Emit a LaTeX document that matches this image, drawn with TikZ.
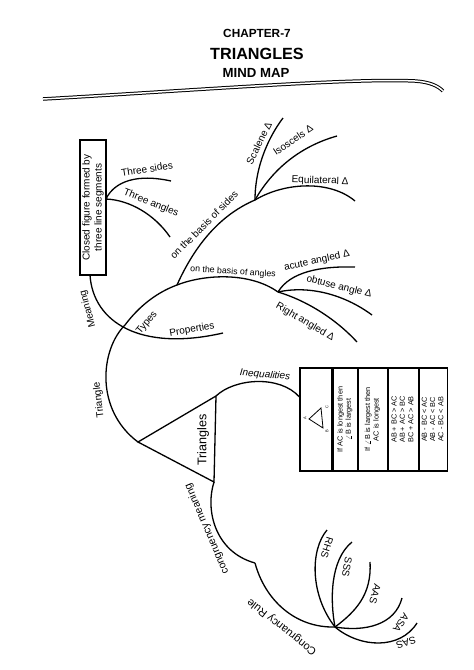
\documentclass[tikz,border=0pt]{standalone}
\usepackage{fontspec}
\setmainfont{Liberation Sans}
\usetikzlibrary{positioning}

\begin{document}
\begin{tikzpicture}[x=1pt,y=-1pt,
      font=\fontsize{10}{12}\selectfont,
      branch/.style={line width=1.3pt},
      lbl/.style={inner sep=0.5pt},
      smalllbl/.style={lbl,font=\fontsize{8.8}{10}\selectfont},
      cell/.style={draw,line width=1.1pt,minimum height=103pt,inner sep=0pt,
                   font=\fontsize{7.3}{8.3}\selectfont},
      corner/.style={inner sep=0pt,font=\fontsize{4}{4}\selectfont}]
    \useasboundingbox (0,0) rectangle (474,670);
    % heading
    \node[font=\bfseries\fontsize{11.8}{14}\selectfont] (chap) at (257,33) {CHAPTER-7};
    \node[font=\bfseries\fontsize{16.2}{18}\selectfont] (head) at (257,54) {TRIANGLES};
    \node[font=\bfseries\fontsize{13.2}{15}\selectfont] (sub) at (256,73) {MIND MAP};
    \draw[line width=1pt,double distance=1.5pt] (43,99) .. controls (200,90) and (350,78) .. (415,81)
        .. controls (430,82) and (438,86) .. (443,91);
    % central triangle
    \coordinate (tri) at (138,442);
    \coordinate (ineq) at (216,396);
    \coordinate (cong) at (214,482);
    \draw[branch] (tri)--(ineq)--(cong)--cycle;
    \node[lbl,rotate=90,font=\fontsize{12.6}{14}\selectfont] (centre) at (203,440) {Triangles};
    % meaning and types
    \node[draw,line width=1.3pt,rotate=90,align=center,minimum width=135pt,minimum height=26pt,
          inner sep=1pt] (closed) at (93,207.5) {Closed figure formed by\\three line segments};
    \coordinate (defn) at (106,199);
    \coordinate (mean) at (90,275);
    \coordinate (types) at (177,285);
    \coordinate (sides) at (255,200);
    \coordinate (angles) at (278,292);
    \coordinate (tsides) at (171,181);
    \coordinate (tangles) at (170,237);
    \coordinate (prop) at (223,333);
    \coordinate (scal) at (283,118);
    \coordinate (isos) at (337,136);
    \coordinate (equi) at (355,201);
    \coordinate (acute) at (355,267);
    \coordinate (obtuse) at (372,315);
    \coordinate (right) at (357,342);
    \draw[branch] (defn) .. controls (112,186) and (130,172) .. (tsides);
    \draw[branch] (defn) .. controls (130,200) and (155,215) .. (tangles);
    \draw[branch] (mean) .. controls (93,322) and (140,352) .. (prop);
    \draw[branch] (tri) .. controls (95,410) and (100,350) .. (125,325)
        .. controls (140,305) and (158,292) .. (types);
    \draw[branch] (types) .. controls (195,245) and (220,215) .. (sides);
    \draw[branch] (types) .. controls (205,274) and (250,272) .. (angles);
    \draw[branch] (sides) .. controls (255,165) and (270,135) .. (scal);
    \draw[branch] (sides) .. controls (275,165) and (305,145) .. (isos);
    \draw[branch] (sides) .. controls (285,182) and (330,180) .. (equi);
    \draw[branch] (angles) .. controls (290,272) and (320,266) .. (acute);
    \draw[branch] (angles) .. controls (310,285) and (345,295) .. (obtuse);
    \draw[branch] (angles) .. controls (305,300) and (335,318) .. (right);
    \node[lbl,rotate=9] (tsl) at (147,169) {Three sides};
    \node[lbl,rotate=-22] (tal) at (151,203) {Three angles};
    \node[lbl,rotate=105] (meanl) at (88,309) {Meaning};
    \node[lbl,rotate=97] (tril) at (99,400) {Triangle};
    \node[lbl,rotate=50] (typesl) at (147,323) {Types};
    \node[lbl,rotate=10] (propl) at (192,330) {Properties};
    \node[lbl,rotate=45] (sidesl) at (204,225) {on the basis of sides};
    \node[smalllbl,rotate=-4] (anglesl) at (233,272) {on the basis of angles};
    \node[lbl,rotate=64] (scall) at (259,143) {Scalene Δ};
    \node[lbl,rotate=34] (isosl) at (293,140) {Isoscels Δ};
    \node[lbl,rotate=-2] (equil) at (320,181) {Equilateral Δ};
    \node[lbl,rotate=12] (acutel) at (317,261) {acute angled Δ};
    \node[lbl,rotate=-14] (obtusel) at (339,287) {obtuse angle Δ};
    \node[lbl,rotate=-30] (rightl) at (305,322) {Right angled Δ};
    % inequalities
    \node[cell,minimum width=32pt] (colA) at (316,419.5) {};
    \node[cell,minimum width=24pt,right=0pt of colA] (colB)
        {\rotatebox{90}{\begin{tabular}{@{}c@{}}If AC is longest then\\$\angle$B is largest\end{tabular}}};
    \node[cell,minimum width=29pt,right=0pt of colB] (colC)
        {\rotatebox{90}{\begin{tabular}{@{}c@{}}If $\angle$B is largest then\\AC is longest\end{tabular}}};
    \node[cell,minimum width=30pt,right=0pt of colC] (colD)
        {\rotatebox{90}{\begin{tabular}{@{}c@{}}AB + BC > AC\\AB + AC > BC\\BC + AC > AB\end{tabular}}};
    \node[cell,minimum width=28pt,right=0pt of colD] (colE)
        {\rotatebox{90}{\begin{tabular}{@{}c@{}}AB - BC < AC\\AB - AC < BC\\AC - BC < AB\end{tabular}}};
    \coordinate (va) at (309,419);
    \coordinate (vc) at (321,408);
    \coordinate (vb) at (323,428);
    \draw[line width=0.8pt] (va)--(vc)--(vb)--cycle;
    \node[corner,rotate=90] (la) at (305,418) {A};
    \node[corner,rotate=90] (lc) at (327,407) {C};
    \node[corner,rotate=90] (lb) at (327,431) {B};
    \draw[branch] (ineq) .. controls (235,378) and (280,375) .. (colA.west |- 0,397);
    \node[lbl,rotate=-5,font=\itshape\fontsize{10}{12}\selectfont] (ineql) at (265,375) {Inequalities};
    % congruency
    \coordinate (rule) at (255,563);
    \coordinate (fan) at (335,627);
    \coordinate (rhs) at (327,530);
    \coordinate (sss) at (352,542);
    \coordinate (aas) at (370,562);
    \coordinate (asa) at (402,598);
    \coordinate (sas) at (417,623);
    \draw[branch] (cong) .. controls (205,510) and (215,552) .. (rule);
    \draw[branch] (rule) .. controls (265,600) and (295,628) .. (fan);
    \draw[branch] (fan) .. controls (310,595) and (310,550) .. (rhs);
    \draw[branch] (fan) .. controls (330,600) and (330,560) .. (sss);
    \draw[branch] (fan) .. controls (355,612) and (372,595) .. (aas);
    \draw[branch] (fan) .. controls (365,632) and (395,625) .. (asa);
    \draw[branch] (fan) .. controls (360,648) and (400,650) .. (sas);
    \node[lbl,rotate=113,font=\fontsize{10.5}{12}\selectfont] (congl) at (207,529) {congruency meaning};
    \node[lbl,rotate=142,font=\fontsize{11}{13}\selectfont] (rulel) at (282,627) {Congruancy Rule};
    \node[lbl,rotate=-107] (rhsl) at (327,548) {RHS};
    \node[lbl,rotate=-100] (sssl) at (347,567) {SSS};
    \node[lbl,rotate=-105] (aasl) at (375,594) {AAS};
    \node[lbl,rotate=-125] (asal) at (401,623) {ASA};
    \node[lbl,rotate=197] (sasl) at (406,643) {SAS};
\end{tikzpicture}
\end{document}
